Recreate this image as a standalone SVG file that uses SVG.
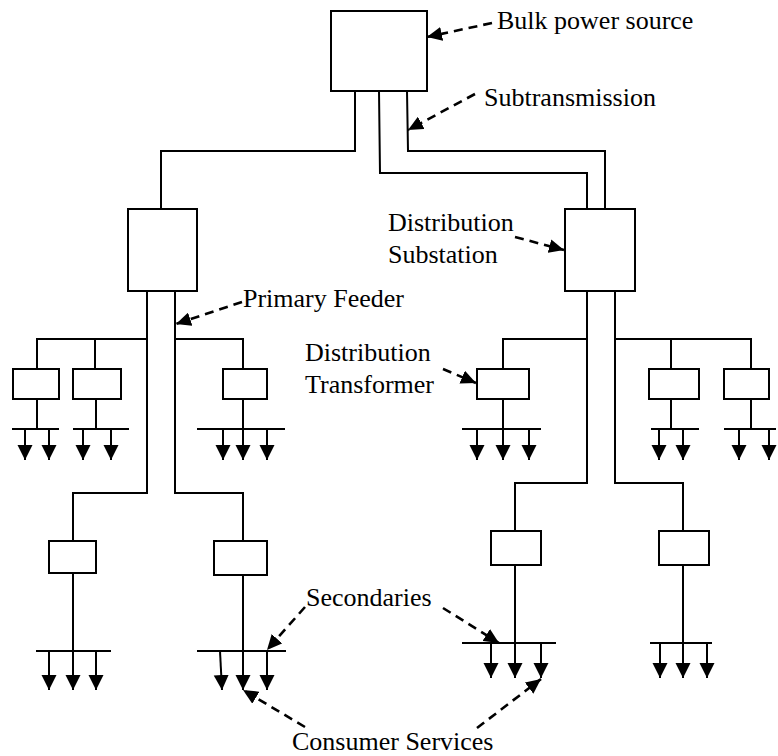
<svg xmlns="http://www.w3.org/2000/svg" width="778" height="756" viewBox="0 0 778 756">
<style>
.box{fill:#fff;stroke:#000;stroke-width:2}
.wire{fill:none;stroke:#000;stroke-width:2}
.load{fill:none;stroke:#000;stroke-width:2;marker-end:url(#load)}
.call{fill:none;stroke:#000;stroke-width:2.6;stroke-dasharray:9 6;marker-end:url(#head)}
text{font-family:"Liberation Serif","Times New Roman",serif;font-size:26px;fill:#000}
</style>
<defs>
<marker id="head" markerUnits="userSpaceOnUse" markerWidth="16" markerHeight="14" refX="15" refY="7" orient="auto"><path d="M0,0 L15,7 L0,14 z" fill="#000"/></marker>
<marker id="load" markerUnits="userSpaceOnUse" markerWidth="16" markerHeight="16" refX="15" refY="7.5" orient="auto"><path d="M0,0 L15,7.5 L0,15 z" fill="#000"/></marker>
</defs>
<rect width="778" height="756" fill="#fff"/>

<g id="connectors">
<polyline class="wire" points="355,91 355,151 161,151 161,209"/>
<polyline class="wire" points="379,91 380,173 587,173 587,209"/>
<polyline class="wire" points="407,91 408,151 605,151 605,209"/>
<polyline class="wire" points="147,291 147,493 73,493 73,541"/>
<polyline class="wire" points="147,339 37,339 37,369"/>
<line class="wire" x1="95" y1="339" x2="95" y2="369"/>
<polyline class="wire" points="175,291 175,493 243,493 243,541"/>
<polyline class="wire" points="175,339 243,339 243,369"/>
<polyline class="wire" points="587,291 587,483 515,483 515,531"/>
<polyline class="wire" points="587,339 503,339 503,369"/>
<polyline class="wire" points="615,291 615,483 683,483 683,531"/>
<polyline class="wire" points="615,339 751,339 751,369"/>
<line class="wire" x1="671" y1="339" x2="671" y2="369"/>
<line class="wire" x1="37" y1="399" x2="37" y2="429"/>
<line class="wire" x1="96" y1="399" x2="96" y2="429"/>
<line class="wire" x1="243" y1="399" x2="243" y2="429"/>
<line class="wire" x1="503" y1="399" x2="503" y2="429"/>
<line class="wire" x1="671" y1="399" x2="671" y2="429"/>
<line class="wire" x1="751" y1="399" x2="751" y2="429"/>
<line class="wire" x1="73" y1="573" x2="73" y2="651"/>
<line class="wire" x1="243" y1="575" x2="243" y2="651"/>
<line class="wire" x1="515" y1="565" x2="515" y2="643"/>
<line class="wire" x1="683" y1="565" x2="683" y2="643"/>
<line class="call" x1="492" y1="23" x2="427" y2="37"/>
<line class="call" x1="475" y1="94" x2="408" y2="130"/>
<line class="call" x1="515" y1="237" x2="564" y2="250"/>
<line class="call" x1="242" y1="302" x2="176" y2="324"/>
<line class="call" x1="443" y1="369" x2="476" y2="383"/>
<line class="call" x1="305" y1="607" x2="267" y2="650"/>
<line class="call" x1="443" y1="608" x2="499" y2="643"/>
<line class="call" x1="305" y1="727" x2="243" y2="690"/>
<line class="call" x1="477" y1="728" x2="541" y2="679"/>
</g>

<g id="bulk-source"><rect class="box" x="331" y="11" width="96" height="80"/></g>
<g id="substation-left"><rect class="box" x="128" y="209" width="69" height="82"/></g>
<g id="substation-right"><rect class="box" x="565" y="209" width="70" height="82"/></g>

<g id="transformer-1"><rect class="box" x="13" y="369" width="46" height="30"/></g>
<g id="transformer-2"><rect class="box" x="73" y="369" width="48" height="30"/></g>
<g id="transformer-3"><rect class="box" x="223" y="369" width="44" height="30"/></g>
<g id="transformer-4"><rect class="box" x="477" y="369" width="52" height="30"/></g>
<g id="transformer-5"><rect class="box" x="649" y="369" width="50" height="30"/></g>
<g id="transformer-6"><rect class="box" x="724" y="369" width="45" height="30"/></g>
<g id="transformer-7"><rect class="box" x="49" y="541" width="47" height="32"/></g>
<g id="transformer-8"><rect class="box" x="214" y="541" width="53" height="34"/></g>
<g id="transformer-9"><rect class="box" x="491" y="531" width="50" height="34"/></g>
<g id="transformer-10"><rect class="box" x="659" y="531" width="50" height="34"/></g>

<g id="secondary-1"><line class="wire" x1="12" y1="429" x2="59" y2="429"/>
<line class="load" x1="25" y1="429" x2="25" y2="460"/><line class="load" x1="49" y1="429" x2="49" y2="460"/></g>
<g id="secondary-2"><line class="wire" x1="73" y1="429" x2="129" y2="429"/>
<line class="load" x1="83" y1="429" x2="83" y2="460"/><line class="load" x1="111" y1="429" x2="111" y2="460"/></g>
<g id="secondary-3"><line class="wire" x1="197" y1="429" x2="285" y2="429"/>
<line class="load" x1="223" y1="429" x2="223" y2="460"/><line class="load" x1="243" y1="429" x2="243" y2="460"/><line class="load" x1="267" y1="429" x2="267" y2="460"/></g>
<g id="secondary-4"><line class="wire" x1="462" y1="429" x2="541" y2="429"/>
<line class="load" x1="477" y1="429" x2="477" y2="460"/><line class="load" x1="503" y1="429" x2="503" y2="460"/><line class="load" x1="529" y1="429" x2="529" y2="460"/></g>
<g id="secondary-5"><line class="wire" x1="651" y1="429" x2="699" y2="429"/>
<line class="load" x1="659" y1="429" x2="659" y2="460"/><line class="load" x1="683" y1="429" x2="683" y2="460"/></g>
<g id="secondary-6"><line class="wire" x1="724" y1="429" x2="776" y2="429"/>
<line class="load" x1="739" y1="429" x2="739" y2="460"/><line class="load" x1="769" y1="429" x2="769" y2="460"/></g>
<g id="secondary-7"><line class="wire" x1="36" y1="651" x2="111" y2="651"/>
<line class="load" x1="49" y1="651" x2="49" y2="690"/><line class="load" x1="73" y1="651" x2="73" y2="690"/><line class="load" x1="96" y1="651" x2="96" y2="690"/></g>
<g id="secondary-8"><line class="wire" x1="197" y1="651" x2="286" y2="651"/>
<line class="load" x1="220" y1="651" x2="222" y2="690"/><line class="load" x1="243" y1="651" x2="243" y2="690"/><line class="load" x1="267" y1="651" x2="267" y2="690"/></g>
<g id="secondary-9"><line class="wire" x1="462" y1="643" x2="556" y2="643"/>
<line class="load" x1="491" y1="643" x2="491" y2="678"/><line class="load" x1="515" y1="643" x2="515" y2="678"/><line class="load" x1="541" y1="643" x2="541" y2="678"/></g>
<g id="secondary-10"><line class="wire" x1="650" y1="643" x2="712" y2="643"/>
<line class="load" x1="660" y1="643" x2="660" y2="678"/><line class="load" x1="683" y1="643" x2="683" y2="678"/><line class="load" x1="707" y1="643" x2="707" y2="678"/></g>

<g id="labels">
<text x="497" y="29">Bulk power source</text>
<text x="484" y="106">Subtransmission</text>
<text x="388" y="231">Distribution</text>
<text x="388" y="263">Substation</text>
<text x="243" y="307">Primary Feeder</text>
<text x="305" y="361">Distribution</text>
<text x="305" y="393">Transformer</text>
<text x="306" y="606">Secondaries</text>
<text x="292" y="750">Consumer Services</text>
</g>
</svg>
